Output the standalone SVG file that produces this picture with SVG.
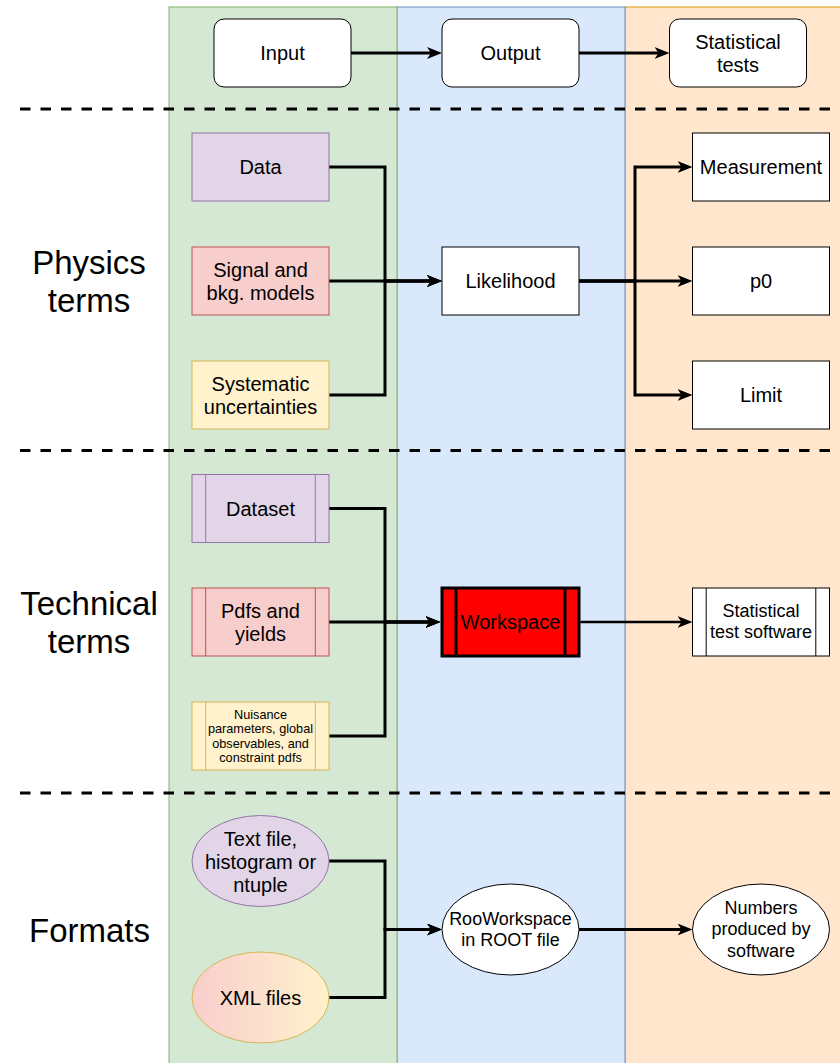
<svg xmlns="http://www.w3.org/2000/svg" width="840" height="1063" viewBox="0 0 840 1063">
<style>
text{font-family:"Liberation Sans",Arial,Helvetica,sans-serif;fill:#000;text-anchor:middle;dominant-baseline:central}
.t20{font-size:20px}
.t18{font-size:18px}
.t12{font-size:12.7px}
.big{font-size:33px}
.w{fill:#fff;stroke:#000;stroke-width:1}
.pur{fill:#e1d5e7;stroke:#9673a6;stroke-width:1}
.red{fill:#f8cecc;stroke:#b85450;stroke-width:1}
.yel{fill:#fff2cc;stroke:#d6b656;stroke-width:1}
.dash{stroke:#000;stroke-width:3;stroke-dasharray:10.5 10;fill:none}
.c{fill:none;stroke:#000;stroke-width:3;marker-end:url(#arr)}
</style>
<defs>
<marker id="arr" markerUnits="userSpaceOnUse" viewBox="0 0 15 12" markerWidth="15" markerHeight="12" refX="5" refY="6" orient="auto">
<path d="M0,0 L15,6 L0,12 L4,6 Z" fill="#000"/>
</marker>
<linearGradient id="gxml" x1="0" y1="0" x2="1" y2="0">
<stop offset="0" stop-color="#f8cecc"/>
<stop offset="1" stop-color="#fff2cc"/>
</linearGradient>
</defs>
<rect width="840" height="1063" fill="#fff"/>
<g id="lanes">
<rect id="lane-tests" x="625" y="7" width="228" height="1070" fill="#ffe6cc" stroke="#d79b00"/>
<rect id="lane-output" x="397" y="7" width="228" height="1070" fill="#dae8fc" stroke="#6c8ebf"/>
<rect id="lane-input" x="169" y="7" width="228" height="1070" fill="#d5e8d4" stroke="#82b366"/>
</g>
<g id="separators">
<line class="dash" x1="20" y1="109" x2="832" y2="109"/>
<line class="dash" x1="20" y1="450.5" x2="832" y2="450.5"/>
<line class="dash" x1="20" y1="793" x2="832" y2="793"/>
</g>
<g id="row-labels">
<text class="big" x="89" y="262">Physics</text>
<text class="big" x="89" y="300">terms</text>
<text class="big" x="89" y="603">Technical</text>
<text class="big" x="89" y="641">terms</text>
<text class="big" x="89.5" y="930">Formats</text>
</g>
<g id="connectors">
<path class="c" d="M351,53 H432"/>
<path class="c" d="M579,53 H659.5"/>
<path class="c" d="M329,167 H385 V281 H432"/>
<path class="c" d="M329,281 H432"/>
<path class="c" d="M329,395 H385 V281 H432"/>
<path class="c" d="M579,281 H635 V167 H682.5"/>
<path class="c" d="M579,281 H682.5"/>
<path class="c" d="M579,281 H635 V395 H682.5"/>
<path class="c" d="M329,508.5 H385 V622 H430.5"/>
<path class="c" d="M329,622 H430.5"/>
<path class="c" d="M329,736 H385 V622 H430.5"/>
<path class="c" style="stroke-width:2.5" d="M580.5,622 H682.5"/>
<path class="c" d="M329,861 H385 V929.5 H432"/>
<path class="c" d="M329,997.5 H385 V929.5 H432"/>
<path class="c" d="M579,929.5 H682.5"/>
</g>
<g id="input">
<rect class="w" x="214" y="19" width="137" height="68" rx="10"/>
<text class="t20" x="282.5" y="53">Input</text>
</g>
<g id="output">
<rect class="w" x="442" y="19" width="137" height="68" rx="10"/>
<text class="t20" x="510.5" y="53">Output</text>
</g>
<g id="statistical-tests">
<rect class="w" x="669.5" y="19" width="137" height="68" rx="10"/>
<text class="t20" x="738" y="41.5">Statistical</text>
<text class="t20" x="738" y="64.5">tests</text>
</g>
<g id="data">
<rect class="pur" x="192" y="133" width="137" height="68"/>
<text class="t20" x="260.5" y="167">Data</text>
</g>
<g id="signal">
<rect class="red" x="192" y="247" width="137" height="68"/>
<text class="t20" x="260.5" y="269.5">Signal and</text>
<text class="t20" x="260.5" y="292.5">bkg. models</text>
</g>
<g id="systematics">
<rect class="yel" x="192" y="361" width="137" height="68"/>
<text class="t20" x="260.5" y="383.5">Systematic</text>
<text class="t20" x="260.5" y="406.5">uncertainties</text>
</g>
<g id="likelihood">
<rect class="w" x="442" y="247" width="137" height="68"/>
<text class="t20" x="510.5" y="281">Likelihood</text>
</g>
<g id="measurement">
<rect class="w" x="692.5" y="133" width="137" height="68"/>
<text class="t20" x="761" y="167">Measurement</text>
</g>
<g id="p0">
<rect class="w" x="692.5" y="247" width="137" height="68"/>
<text class="t20" x="761" y="281">p0</text>
</g>
<g id="limit">
<rect class="w" x="692.5" y="361" width="137" height="68"/>
<text class="t20" x="761" y="395">Limit</text>
</g>
<g id="dataset">
<rect class="pur" x="192" y="474.5" width="137" height="68"/>
<line x1="205.7" y1="474.5" x2="205.7" y2="542.5" stroke="#9673a6"/>
<line x1="315.3" y1="474.5" x2="315.3" y2="542.5" stroke="#9673a6"/>
<text class="t20" x="260.5" y="508.5">Dataset</text>
</g>
<g id="pdfs">
<rect class="red" x="192" y="588" width="137" height="68"/>
<line x1="205.7" y1="588" x2="205.7" y2="656" stroke="#b85450"/>
<line x1="315.3" y1="588" x2="315.3" y2="656" stroke="#b85450"/>
<text class="t20" x="260.5" y="610.5">Pdfs and</text>
<text class="t20" x="260.5" y="633.5">yields</text>
</g>
<g id="nuisance">
<rect class="yel" x="192" y="702" width="137" height="68"/>
<line x1="205.7" y1="702" x2="205.7" y2="770" stroke="#d6b656"/>
<line x1="315.3" y1="702" x2="315.3" y2="770" stroke="#d6b656"/>
<text class="t12" x="260.5" y="714.5">Nuisance</text>
<text class="t12" x="260.5" y="729">parameters, global</text>
<text class="t12" x="260.5" y="743.5">observables, and</text>
<text class="t12" x="260.5" y="758">constraint pdfs</text>
</g>
<g id="workspace">
<rect x="442" y="588" width="137" height="68" fill="#ff0000" stroke="#000" stroke-width="3"/>
<line x1="456" y1="588" x2="456" y2="656" stroke="#000" stroke-width="3"/>
<line x1="565" y1="588" x2="565" y2="656" stroke="#000" stroke-width="3"/>
<text class="t20" x="510.5" y="622">Workspace</text>
</g>
<g id="test-software">
<rect class="w" x="692.5" y="588" width="137" height="68"/>
<line x1="706.2" y1="588" x2="706.2" y2="656" stroke="#000"/>
<line x1="815.8" y1="588" x2="815.8" y2="656" stroke="#000"/>
<text class="t18" x="761" y="610.5">Statistical</text>
<text class="t18" x="761" y="631.5">test software</text>
</g>
<g id="text-file">
<ellipse cx="260.5" cy="861" rx="68.5" ry="45.5" class="pur"/>
<text class="t20" x="260.5" y="839">Text file,</text>
<text class="t20" x="260.5" y="862">histogram or</text>
<text class="t20" x="260.5" y="885">ntuple</text>
</g>
<g id="xml-files">
<ellipse cx="260.5" cy="997.5" rx="68.5" ry="45.5" fill="url(#gxml)" stroke="#d6b656"/>
<text class="t20" x="260.5" y="997.5">XML files</text>
</g>
<g id="rooworkspace">
<ellipse cx="510.5" cy="929.5" rx="68.5" ry="45.5" class="w"/>
<text class="t18" x="510.5" y="918.5">RooWorkspace</text>
<text class="t18" x="510.5" y="939.5">in ROOT file</text>
</g>
<g id="numbers">
<ellipse cx="761" cy="929.5" rx="68.5" ry="45.5" class="w"/>
<text class="t18" x="761" y="907.5">Numbers</text>
<text class="t18" x="761" y="929">produced by</text>
<text class="t18" x="761" y="950.5">software</text>
</g>
</svg>
